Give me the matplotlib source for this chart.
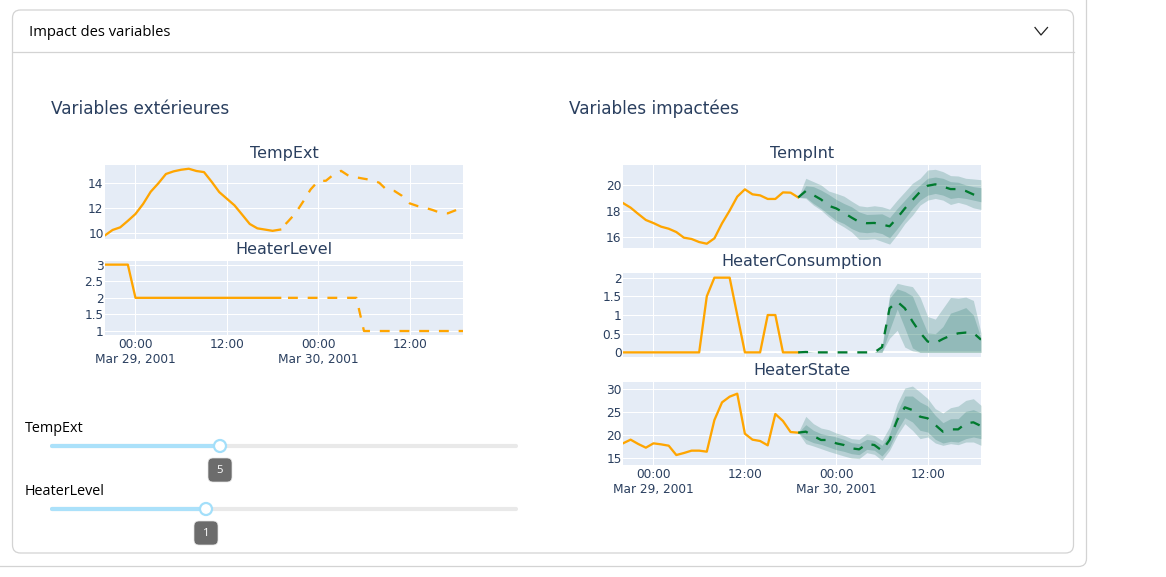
import matplotlib
matplotlib.use("Agg")
import matplotlib.pyplot as plt
import numpy as np
import pandas as pd
from matplotlib.patches import FancyBboxPatch, Circle

W, H = 1166, 577
INK = "#2a3f5f"
PLOT_BG = "#e5ecf6"
ORANGE = "#ffa500"
GREEN = "#007a2e"
BAND = (0, 100 / 255, 80 / 255, 0.2)
BORDER = "#d3d3d3"
LW = 1.65

hours = pd.date_range("2001-03-28 20:00", periods=48, freq="h").to_numpy()
tick_times = pd.to_datetime(["2001-03-29 00:00", "2001-03-29 12:00", "2001-03-30 00:00", "2001-03-30 12:00"]).to_numpy()
tick_labels = ["00:00\nMar 29, 2001", "12:00", "00:00\nMar 30, 2001", "12:00"]

# first 24 hours are history, last 24 the scenario
temp_ext = [9.84, 10.27, 10.48, 11.0, 11.55, 12.35, 13.33, 14.0, 14.75, 14.96, 15.09, 15.17,
            14.99, 14.9, 14.13, 13.3, 12.77, 12.24, 11.5, 10.75, 10.4, 10.3, 10.2, 10.3,
            10.93, 11.6, 12.53, 13.52, 14.19, 14.21, 14.7, 15.0, 14.6, 14.48, 14.37, 14.27,
            14.05, 13.47, 13.39, 13.0, 12.4, 12.19, 12.05, 11.87, 11.65, 11.6, 11.84, 12.13]
heater_level = [3, 3, 3, 3, 2, 2, 2, 2, 2, 2, 2, 2, 2, 2, 2, 2, 2, 2, 2, 2, 2, 2, 2, 2,
                2, 2, 2, 2, 2, 2, 2, 2, 2, 2, 1, 1, 1, 1, 1, 1, 1, 1, 1, 1, 1, 1, 1, 1]

temp_int = [18.62, 18.26, 17.77, 17.3, 17.06, 16.78, 16.62, 16.36, 15.92, 15.82, 15.58, 15.45,
            15.87, 17.04, 18.03, 19.12, 19.69, 19.3, 19.22, 18.94, 18.94, 19.45, 19.43, 19.06]
temp_int_med = [19.56, 19.24, 18.9, 18.41, 18.2, 17.86, 17.49, 17.15, 17.05, 17.07, 16.94, 16.81,
                17.46, 18.2, 18.85, 19.5, 19.97, 20.08, 19.9, 19.71, 19.71, 19.56, 19.29, 19.11]
temp_int_hi2 = [20.55, 20.29, 20.03, 19.56, 19.37, 19.16, 18.77, 18.41, 18.33, 18.41, 18.33, 18.14,
                18.85, 19.5, 20.16, 20.55, 21.2, 21.25, 21.07, 20.76, 20.73, 20.55, 20.5, 20.44]
temp_int_hi1 = [19.97, 19.9, 19.63, 19.29, 18.9, 18.59, 18.33, 17.93, 17.73, 17.75, 17.78, 17.49,
                18.2, 18.85, 19.5, 20.03, 20.55, 20.65, 20.55, 20.29, 20.24, 20.03, 19.9, 19.82]
temp_int_lo1 = [19.06, 18.59, 18.2, 17.73, 17.28, 17.02, 16.63, 16.37, 16.31, 16.37, 16.24, 15.9,
                16.63, 17.41, 18.2, 18.85, 19.24, 19.37, 19.24, 18.98, 19.06, 18.98, 18.85, 18.72]
temp_int_lo2 = [18.98, 18.46, 18.07, 17.54, 17.1, 16.76, 16.37, 15.79, 15.79, 15.84, 15.63, 15.42,
                16.16, 17.02, 17.67, 18.46, 18.85, 18.98, 18.85, 18.51, 18.67, 18.51, 18.25, 18.12]

consumption = [0, 0, 0, 0, 0, 0, 0, 0, 0, 0, 0, 1.5, 2, 2, 2, 1, 0, 0, 0, 1, 1, 0, 0, 0]
consumption_med = [0.01, 0, 0, 0, 0, 0, 0, 0, 0, 0, 0.14, 1.18, 1.36, 1.18, 0.83, 0.53, 0.29, 0.25,
                   0.36, 0.45, 0.51, 0.53, 0.52, 0.34]
consumption_hi2 = [0.03, 0.01, 0, 0, 0, 0, 0, 0, 0, 0, 0.16, 1.54, 1.85, 1.8, 1.76, 1.48, 0.96, 0.89,
                   1.18, 1.47, 1.45, 1.48, 1.39, 0.52]
consumption_hi1 = [0.02, 0, 0, 0, 0, 0, 0, 0, 0, 0, 0.1, 1.45, 1.7, 1.63, 1.51, 1.0, 0.52, 0.5,
                   0.69, 1.05, 1.12, 1.2, 1.0, 0.38]
consumption_lo1 = [0, 0, 0, 0, 0, 0, 0, 0, 0, 0, 0, 0.6, 1.16, 0.65, 0.12, 0, 0, 0, 0, 0, 0, 0, 0, 0]
consumption_lo2 = [0, 0, 0, 0, 0, 0, 0, 0, 0, 0, 0, 0.38, 0.59, 0.14, 0.04, 0, 0, 0, 0, 0, 0, 0, 0, 0]

heater_state = [18.26, 19.06, 18.12, 17.32, 18.26, 18.04, 17.75, 15.72, 16.16, 16.67, 16.67, 16.45,
                23.33, 27.17, 28.41, 29.06, 20.36, 19.06, 18.77, 17.83, 24.64, 23.12, 20.72, 20.58]
heater_state_med = [20.8, 19.86, 18.99, 18.99, 18.26, 17.9, 17.17, 16.96, 18.12, 17.9, 16.67, 18.99,
                    23.33, 26.09, 25.51, 24.06, 23.7, 22.25, 20.8, 21.3, 21.3, 22.6, 22.83, 22.03]
heater_state_hi2 = [24.13, 22.54, 21.59, 21.23, 20.51, 20.0, 19.28, 19.13, 20.36, 20.0, 18.91, 21.81,
                    26.88, 30.29, 30.72, 29.42, 28.0, 25.8, 24.86, 26.01, 26.38, 27.6, 27.97, 26.52]
heater_state_hi1 = [22.32, 21.09, 20.36, 20.0, 19.64, 19.13, 18.41, 18.19, 19.13, 18.91, 17.83, 20.36,
                    25.07, 28.55, 28.55, 27.25, 26.38, 24.35, 22.75, 23.62, 23.62, 25.22, 25.58, 24.86]
heater_state_lo1 = [19.13, 18.41, 18.04, 17.46, 16.88, 16.52, 16.01, 15.8, 16.96, 16.74, 15.51, 17.46,
                    21.09, 23.84, 22.9, 21.09, 20.72, 19.13, 18.33, 18.7, 18.55, 19.28, 19.64, 19.28]
heater_state_lo2 = [18.19, 17.68, 17.1, 16.52, 16.01, 15.51, 15.07, 14.93, 16.23, 15.87, 14.57, 16.74,
                    20.0, 22.54, 21.09, 19.28, 19.64, 18.33, 17.83, 18.19, 17.97, 18.55, 18.55, 17.83]

slider_names = ["TempExt", "HeaterLevel"]
slider_values = [5, 1]


def px_axes(fig, left, top, right, bottom):
    return fig.add_axes([left / W, 1 - bottom / H, (right - left) / W, (bottom - top) / H])


def style_axes(ax, title, ylim, yticks, ylabels, show_dates=False):
    ax.set_facecolor(PLOT_BG)
    for s in ax.spines.values():
        s.set_visible(False)
    ax.set_xlim(hours[0], hours[-1])
    ax.set_ylim(*ylim)
    ax.set_yticks(yticks, ylabels)
    ax.set_xticks(tick_times, tick_labels if show_dates else [""] * len(tick_times))
    ax.grid(True, color="white", lw=0.75)
    ax.set_axisbelow(True)
    ax.tick_params(length=0, colors=INK, labelsize=8.7)
    ax.tick_params(axis="y", pad=1)
    ax.tick_params(axis="x", pad=2)
    ax.set_title(title, color=INK, fontsize=11.5, pad=4.7)


def scenario_dash(offset=0.0):
    return (offset, (4.3, 4.3))


def plot_input(ax, values):
    values = np.array(values)
    ax.plot(hours[:24], values[:24], color=ORANGE, lw=LW)
    ax.plot(hours[23:], values[23:], color=ORANGE, lw=LW, ls=scenario_dash(5.2), dash_capstyle="butt")


def plot_output(ax, hist, med, hi2, hi1, lo1, lo2):
    t = hours[23:]
    last = hist[-1]
    ax.fill_between(t, [last] + lo2, [last] + hi2, color=BAND, lw=0)
    ax.fill_between(t, [last] + lo1, [last] + hi1, color=BAND, lw=0)
    ax.plot(hours[:24], hist, color=ORANGE, lw=LW)
    ax.plot(t, [last] + med, color=GREEN, lw=LW, ls=scenario_dash(), dash_capstyle="butt")


fig = plt.figure(figsize=(W / 100, H / 100), dpi=100)

# page furniture, in pixels
bg = fig.add_axes([0, 0, 1, 1], zorder=-1)
bg.set_xlim(0, W)
bg.set_ylim(H, 0)
bg.axis("off")
bg.add_patch(FancyBboxPatch((-20, -20), 1106.5, 586.5, boxstyle="round,pad=0,rounding_size=8",
                            fc="white", ec=BORDER, lw=0.9))
bg.add_patch(FancyBboxPatch((12.5, 10), 1061, 543, boxstyle="round,pad=0,rounding_size=8",
                            fc="white", ec=BORDER, lw=0.9))
bg.plot([12.5, 1073.5], [52, 52], color=BORDER, lw=0.9)
bg.plot([1035, 1041, 1047.5], [27.5, 35, 27.5], color="#222222", lw=0.9)
bg.text(29, 32.5, "Impact des variables", family="Open Sans", fontsize=10.6, color="black", va="center")
bg.text(51, 109, "Variables extérieures", color=INK, fontsize=12.2, va="center")
bg.text(569, 109, "Variables impactées", color=INK, fontsize=12.2, va="center")

# sliders
track_left, track_right = 52, 516
for name, val, lab_y, track_y, handle_x in zip(slider_names, slider_values, [428.5, 491.5], [446, 509], [220, 206]):
    bg.text(25, lab_y, name, family="Open Sans", fontsize=10.4, color="black", va="center")
    bg.plot([track_left, track_right], [track_y, track_y], color="#e9e9e9", lw=3, solid_capstyle="round")
    bg.plot([track_left, handle_x], [track_y, track_y], color="#abe1fa", lw=3, solid_capstyle="round")
    bg.add_patch(Circle((handle_x, track_y), 6, fc="white", ec="#a3dffa", lw=1.6, zorder=4))
    bg.add_patch(FancyBboxPatch((handle_x - 12, track_y + 12), 24, 24, boxstyle="round,pad=0,rounding_size=5",
                                fc="#6c6c6c", ec="#e4e4e4", lw=0.5, zorder=4))
    bg.text(handle_x, track_y + 24.5, str(val), family="Open Sans", fontsize=8.2, color="white",
            ha="center", va="center", zorder=5)

# left column
ax_ext = px_axes(fig, 105, 165, 463, 238.7)
style_axes(ax_ext, "TempExt", (9.57, 15.47), [10, 12, 14], ["10", "12", "14"])
plot_input(ax_ext, temp_ext)

ax_level = px_axes(fig, 105, 261, 463, 335)
style_axes(ax_level, "HeaterLevel", (0.88, 3.11), [1, 1.5, 2, 2.5, 3], ["1", "1.5", "2", "2.5", "3"], True)
plot_input(ax_level, heater_level)

# right column
ax_int = px_axes(fig, 623, 164.7, 981, 247.7)
style_axes(ax_int, "TempInt", (15.14, 21.61), [16, 18, 20], ["16", "18", "20"])
plot_output(ax_int, temp_int, temp_int_med, temp_int_hi2, temp_int_hi1, temp_int_lo1, temp_int_lo2)

ax_cons = px_axes(fig, 623, 273, 981, 356.7)
style_axes(ax_cons, "HeaterConsumption", (-0.116, 2.125), [0, 0.5, 1, 1.5, 2], ["0", "0.5", "1", "1.5", "2"])
ax_cons.axhline(0, color="white", lw=1.4, zorder=0.9)
plot_output(ax_cons, consumption, consumption_med, consumption_hi2, consumption_hi1, consumption_lo1, consumption_lo2)

ax_state = px_axes(fig, 623, 382, 981, 465)
style_axes(ax_state, "HeaterState", (13.55, 31.6), [15, 20, 25, 30], ["15", "20", "25", "30"], True)
plot_output(ax_state, heater_state, heater_state_med, heater_state_hi2, heater_state_hi1, heater_state_lo1, heater_state_lo2)

fig.savefig("out.png", dpi=100)
